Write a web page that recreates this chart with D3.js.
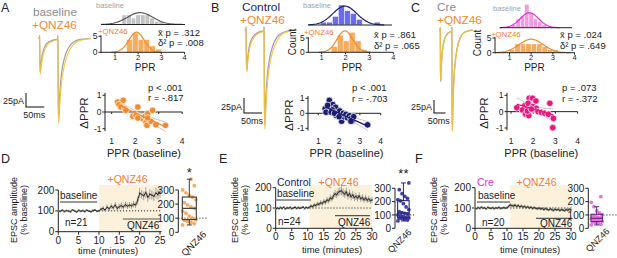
<!DOCTYPE html>
<html><head><meta charset="utf-8">
<script src="https://cdn.jsdelivr.net/npm/d3@7/dist/d3.min.js"></script>
<style>html,body{margin:0;padding:0;background:#fff;}svg{display:block;}</style>
</head><body>
<svg id="chart" width="617" height="258"></svg>
<script>
// ================= DATA =================
const pprTicks = [1, 2, 3, 4];
const dpprTicks = [-1, 0, 1];
const histYTicks = [0, 5];
const tcTicksD = [0, 5, 10, 15, 20, 25];
const tcTicksEF = [0, 5, 10, 15, 20, 25, 30];
const tcYTicks = [0, 100, 200];
const boxYTicks = [0, 100, 200, 300];

// example EPSC traces (ms, pA)
const traceT = [-4, -0.2, 0, 0.4, 1.2, 2.2, 3.5, 6, 10, 16, 24, 34, 46, 49.8, 50, 50.4, 51.2, 52.2, 53.5, 56, 60, 66, 74, 86, 100, 118, 140];
const traceA_base = [0, 0, 5, -6, -45, -60, -51, -36, -23, -13, -7, -4, -2, -2, 5, -16, -107, -143, -126, -94, -64, -41, -24, -11, -4, -1.5, 0];
const traceA_qnz  = [0, 0, 5, -6, -47, -64, -57, -43, -29, -18, -10, -6, -3, -3, 5, -16, -112, -152, -140, -110, -80, -55, -34, -17, -7, -2.5, 0];
const traceB_base = [0, 0, 5, -7, -50, -67, -57, -40, -25, -15, -8, -4, -2, -2, 5, -18, -118, -158, -139, -104, -71, -46, -27, -12, -5, -1.5, 0];
const traceB_qnz  = [0, 0, 5, -7, -52, -70, -62, -46, -31, -19, -11, -6, -3, -3, 5, -18, -123, -165, -152, -118, -85, -58, -36, -18, -7, -2.5, 0];
const traceC_base = [0, 0, 5, -10, -75, -99, -84, -59, -38, -22, -12, -6, -3, -3, 5, -20, -144, -192, -169, -127, -86, -56, -33, -15, -6, -2, 0];
const traceC_qnz  = [0, 0, 5, -10, -72, -95, -82, -59, -39, -23, -13, -7, -3, -3, 5, -20, -146, -195, -173, -131, -90, -59, -35, -16, -6, -2, 0];

// PPR histograms: [bin start, bin width], counts; gaussian fit [mean, sd, peak count]
const histA_baseBins = [1.3, 0.2];  const histA_base = [3, 3, 2, 3, 3, 3, 2, 1, 1];
const histA_qnzBins  = [1.5, 0.25]; const histA_qnz  = [4, 6, 4, 4, 2, 1];
const gaussA_base = [2.08, 0.55, 3.7]; const gaussA_qnz = [1.93, 0.33, 6.3];
const histB_baseBins = [0.95, 0.25]; const histB_base = [1, 1, 3, 7, 5, 4, 2, 0, 0, 1];
const histB_qnzBins  = [1.4, 0.25];  const histB_qnz  = [2, 6, 4, 7, 4, 1];
const gaussB_base = [1.97, 0.5, 6.6]; const gaussB_qnz = [1.97, 0.33, 7.5];
const histC_baseBins = [1.1, 0.2];   const histC_base = [1, 3, 4, 8, 5, 3, 2, 1];
const histC_qnzBins  = [1.0, 0.25];  const histC_qnz  = [1, 3, 3, 3, 3, 3, 2, 1, 1];
const gaussC_base = [1.92, 0.42, 5.1]; const gaussC_qnz = [2.0, 0.55, 4.6];
const statsHistA = ['.312', '.008'];
const statsHistB = ['.861', '.065'];
const statsHistC = ['.024', '.649'];

// PPR (baseline) vs ΔPPR
const pprA = [1.25,1.49,1.31,1.39,1.56,1.60,2.11,1.90,2.04,2.18,2.32,2.42,2.53,2.74,2.46,2.50,2.67,2.88,3.29,2.11,2.53];
const dA   = [0.60,0.70,0.44,0.30,0.20,0.10,0.30,-0.26,-0.20,-0.36,-0.40,-0.26,-0.10,0.10,-0.60,-0.80,-0.56,-0.76,-0.80,-0.36,-0.36];
const pprB = [1.33,1.37,1.53,1.70,1.83,1.67,1.87,1.95,2.03,2.12,2.20,2.23,2.33,2.40,2.50,2.58,2.62,2.70,1.62,1.78,2.00,3.37,2.57,1.45];
const dB   = [0.30,0.07,0.86,0.58,0.40,0.23,-0.16,0.00,0.16,-0.53,0.00,-0.23,-0.07,-0.30,-0.16,-0.35,-0.53,-0.23,0.07,0.00,-0.23,-0.77,-0.53,0.53];
const pprC = [1.26,1.62,1.82,1.97,1.77,2.12,1.51,1.66,1.80,1.74,1.98,2.14,2.22,2.37,2.52,2.68,2.75,2.91,2.88,1.92];
const dC   = [0.24,0.37,0.82,0.82,0.51,0.65,0.10,-0.16,-0.24,0.04,0.31,0.20,0.00,-0.04,-0.10,-0.16,0.51,-0.41,-0.98,0.16];
const statsScatA = ['p < .001', 'r = -.817'];
const statsScatB = ['p < .001', 'r = -.703'];
const statsScatC = ['p = .073', 'r = -.372'];

// EPSC amplitude time courses (% baseline), 0.5-min bins
const tcStep = 0.5;
const tcD  = [100,98,103,97,101,99,96,104,100,95,102,98,101,97,103,99,96,101,104,98,100,
              108,112,104,118,110,122,115,128,112,120,125,118,130,122,128,124,132,128,
              150,185,178,172,188,165,180,175,170,185,178,190];
const semD = [5,4,6,5,4,5,6,4,5,6,5,4,5,6,5,4,5,6,5,4,5,
              8,10,9,12,10,13,11,14,12,13,15,12,14,13,15,14,16,15,
              20,24,22,21,25,22,24,23,22,25,24,26];
const tcE  = [95,100,97,102,98,104,96,101,99,103,97,100,104,98,102,99,101,105,98,103,100,
              104,110,106,115,112,120,118,126,122,132,128,140,135,150,145,160,170,165,178,182,
              185,175,168,180,160,172,155,165,150,158,148,160,145,152,140,150,138,145,135,140];
const semE = [4,5,4,6,5,4,5,5,4,6,5,4,5,4,6,5,4,5,6,4,5,
              7,8,9,10,9,11,10,12,12,13,12,14,13,15,14,16,18,17,19,20,
              22,20,19,21,18,20,17,19,16,18,16,17,15,16,15,16,14,15,14,15];
const tcF  = [100,97,102,98,104,99,101,96,103,100,98,102,97,101,99,103,98,100,102,99,101,
              108,115,112,110,114,108,112,106,110,104,108,102,106,100,104,98,102,99,96,100,
              95,98,92,97,94,90,96,92,88,94,90,93,88,92,90,87,92,89,94,90];
const semF = [5,4,5,4,5,4,5,5,4,5,4,5,4,5,4,5,5,4,5,4,5,
              9,10,9,8,9,8,8,7,8,7,7,7,6,7,6,7,6,6,7,6,
              7,6,7,6,7,6,6,7,6,7,6,6,7,6,7,6,6,7,6,7];
const drugStart = [10, 10.5, 11];     // QNZ46 onset (min) for D, E, F
const nCells = ['n=21', 'n=24', 'n=20'];

// per-cell mean amplitude during QNZ46 (% baseline)
const boxD = [52,62,70,78,85,90,100,115,135,150,170,180,195,210,230,250,262,280,300,330,377];
const boxE = [55,62,68,72,76,78,82,88,95,100,106,112,118,125,140,160,185,205,215,225,240,260,290,340];
const boxF = [25,30,38,42,48,52,58,62,68,72,78,82,88,95,102,115,130,162,195,237];
const sigMarks = ['*', '**', ''];

// ================= DRAWING =================
const svg = d3.select('#chart').attr('font-family', '"Liberation Sans", Arial, Helvetica, sans-serif');
const COL = {
  orange: '#f28a2e', orangeBar: '#f8ab5c', orangeText: '#f27a35',
  grayBar: '#c4c4c4', grayCurve: '#5a5a5a', grayText: '#a3a3a3',
  blueBar: '#6b6bef', navy: '#21217f',
  pinkBar: '#f59ae0', magenta: '#e030d8', pinkPt: '#e8187e',
  yellow: '#f4c23f', traceGray: '#a2a2a2', traceBlueGray: '#9c9cbc',
  shade: '#fdf1dc', ink: '#222'
};

function txt(x, y, s, size, fill, anchor, rot) {
  const t = svg.append('text').attr('x', x).attr('y', y).text(s)
    .attr('font-size', size).attr('fill', fill || COL.ink)
    .attr('text-anchor', anchor || 'start');
  if (rot) t.attr('transform', `rotate(${rot},${x},${y})`);
  return t;
}
function seg(x1, y1, x2, y2, stroke, w, dash) {
  const l = svg.append('line').attr('x1', x1).attr('y1', y1).attr('x2', x2).attr('y2', y2)
    .attr('stroke', stroke || COL.ink).attr('stroke-width', w || 1);
  if (dash) l.attr('stroke-dasharray', dash);
  return l;
}

// ---- panel letters
[['A', 1, 12], ['B', 211, 12], ['C', 411, 12], ['D', 1, 163], ['E', 219, 163], ['F', 415, 163]]
  .forEach(([s, x, y]) => txt(x, y, s, 12.5, COL.ink));

// ---- traces
function drawTraces(o) {
  const x = d3.scaleLinear().domain([0, 50]).range([o.t0, o.t0 + 50 * o.k]);
  const y = d3.scaleLinear().domain([0, -100]).range([o.y0, o.y0 + 100 * o.ppa]);
  const ln = d3.line().x((d, i) => x(traceT[i])).y(d => y(d)).curve(d3.curveMonotoneX);
  svg.append('path').attr('d', ln(o.base)).attr('fill', 'none').attr('stroke', o.baseCol).attr('stroke-width', 1.3);
  svg.append('path').attr('d', ln(o.qnz)).attr('fill', 'none').attr('stroke', COL.yellow).attr('stroke-width', 1.2).attr('opacity', 0.9);
  const sx = o.sb[0], sy = o.sb[1];
  const h = y(-25) - y(0), w = x(50) - x(0);
  seg(sx, sy - h, sx, sy, COL.ink, 1.1);
  seg(sx - 0.5, sy, sx + w, sy, COL.ink, 1.1);
  txt(sx - 2, sy - 3.5, '25pA', 9, COL.ink, 'end');
  txt(sx + w / 2 - 1, sy + 11, '50ms', 9, COL.ink, 'middle');
}
drawTraces({t0: 39.5, k: 0.366, y0: 38.3, ppa: 0.56, base: traceA_base, qnz: traceA_qnz, baseCol: COL.traceGray, sb: [26, 107]});
drawTraces({t0: 246, k: 0.36, y0: 30, ppa: 0.6, base: traceB_base, qnz: traceB_qnz, baseCol: COL.traceBlueGray, sb: [244, 113]});
drawTraces({t0: 440.2, k: 0.232, y0: 30, ppa: 0.52, base: traceC_base, qnz: traceC_qnz, baseCol: COL.traceGray, sb: [434, 113]});

txt(33, 15.5, 'baseline', 11.8, '#8c8c8c');
txt(32, 28.8, '+QNZ46', 11.8, COL.orange);
txt(242, 10.5, 'Control', 11.8, COL.navy);
txt(240, 23.8, '+QNZ46', 11.8, COL.orange);
txt(437, 10.5, 'Cre', 11.8, '#8c8c8c');
txt(437, 23.8, '+QNZ46', 11.8, COL.orange);

// ---- histograms
function drawHists(o) {
  const x = d3.scaleLinear().domain([1, 4]).range(o.xr);
  const one = (y0, bins, counts, barCol, gauss, curveCol) => {
    const y = d3.scaleLinear().domain([0, 1]).range([y0, y0 - o.pxc]);
    const [s, w] = bins;
    svg.append('g').selectAll('rect').data(counts).join('rect')
      .attr('x', (d, i) => x(s + i * w)).attr('width', x(s + w) - x(s))
      .attr('y', d => y(d)).attr('height', d => y(0) - y(d))
      .attr('fill', barCol).attr('stroke', '#fff').attr('stroke-width', 0.5);
    const [m, sd, pk] = gauss;
    const lo = Math.max(m - 3.3 * sd, x.invert(o.axisX)), hi = Math.min(m + 3.3 * sd, 4);
    const xs = d3.range(61).map(i => lo + (hi - lo) * i / 60);
    svg.append('path').datum(xs)
      .attr('d', d3.line().x(p => x(p)).y(p => y(pk * Math.exp(-0.5 * ((p - m) / sd) ** 2))))
      .attr('fill', 'none').attr('stroke', curveCol).attr('stroke-width', 1.2);
  };
  one(o.yTop, o.baseBins, o.base, o.baseBar, o.baseG, o.baseCurve);
  seg(o.topLine[0], o.yTop, o.topLine[1], o.yTop, COL.ink, 1);
  one(o.yBot, o.qnzBins, o.qnz, COL.orangeBar, o.qnzG, COL.orange);
  const yb = d3.scaleLinear().domain([0, 1]).range([o.yBot, o.yBot - o.pxc]);
  seg(o.axisX, yb(0) + 0.5, o.axisX, yb(5.3), COL.ink, 1);
  histYTicks.forEach(v => {
    seg(o.axisX - 2.5, yb(v), o.axisX, yb(v), COL.ink, 1);
    txt(o.axisX - 3.5, yb(v) + 3, String(v), 8.5, COL.ink, 'end');
  });
  seg(o.axisX, o.yBot, x(4), o.yBot, COL.ink, 1);
  pprTicks.forEach(v => {
    seg(x(v), o.yBot, x(v), o.yBot + 2, COL.ink, 1);
    txt(x(v), o.yBot + 7.6, String(v), 7.5, COL.ink, 'middle');
  });
  txt(x(o.pprLab), 71.2, 'PPR', 10, COL.ink, 'middle');
  if (o.count) txt(o.count[0], o.count[1], 'Count', 10, COL.ink, 'middle', -90);
  txt(o.baseLab[0], o.baseLab[1], 'baseline', 7.5, COL.grayText);
  txt(o.qnzLab[0], o.qnzLab[1], '+QNZ46', 7.8, COL.orangeText);
  txt(o.stat[0], o.stat[1], 'x\u0304 p = ' + o.stats[0], 9.5, COL.ink);
  txt(o.stat[0], o.stat[1] + 10.7, '\u03b4\u00b2 p = ' + o.stats[1], 9.5, COL.ink);
}
drawHists({xr: [115, 184.5], axisX: 101, yTop: 24.5, yBot: 52.3, pxc: 3.2, topLine: [101, 185],
  baseBins: histA_baseBins, base: histA_base, baseBar: COL.grayBar, baseG: gaussA_base, baseCurve: COL.grayCurve,
  qnzBins: histA_qnzBins, qnz: histA_qnz, qnzG: gaussA_qnz, pprLab: 2.3, count: null,
  baseLab: [96, 8], qnzLab: [98, 34], stat: [158, 35.5], stats: statsHistA});
drawHists({xr: [321.7, 393.3], axisX: 308.3, yTop: 25, yBot: 52.3, pxc: 2.86, topLine: [308, 392],
  baseBins: histB_baseBins, base: histB_base, baseBar: COL.blueBar, baseG: gaussB_base, baseCurve: COL.navy,
  qnzBins: histB_qnzBins, qnz: histB_qnz, qnzG: gaussB_qnz, pprLab: 2.27, count: [296, 42],
  baseLab: [303, 7.5], qnzLab: [304, 35], stat: [374, 38], stats: statsHistB});
drawHists({xr: [509.5, 574.5], axisX: 495, yTop: 27.7, yBot: 52.7, pxc: 2.94, topLine: [500, 572],
  baseBins: histC_baseBins, base: histC_base, baseBar: COL.pinkBar, baseG: gaussC_base, baseCurve: COL.magenta,
  qnzBins: histC_qnzBins, qnz: histC_qnz, qnzG: gaussC_qnz, pprLab: 2.15, count: [481, 43],
  baseLab: [493, 11], qnzLab: [491, 37], stat: [560, 38], stats: statsHistC});

// ---- scatter PPR vs ΔPPR
function drawScatter(o) {
  const x = d3.scaleLinear().domain([1, 4]).range(o.xr);
  const y = d3.scaleLinear().domain([-1, 1]).range(o.yr);
  seg(o.axisX, y(1.15), o.axisX, y(-1.15), COL.ink, 1);
  dpprTicks.forEach(v => {
    seg(o.axisX - 2.5, y(v), o.axisX, y(v), COL.ink, 1);
    txt(o.axisX - 3.5, y(v) + 3, v === -1 ? '-1' : String(v), 8.5, COL.ink, 'end');
  });
  seg(o.axisX, y(0), x(4), y(0), COL.ink, 1);
  pprTicks.forEach(v => {
    seg(x(v), y(0), x(v), y(0) + 2, COL.ink, 1);
    txt(x(v), 143.5, String(v), 8.5, COL.ink, 'middle');
  });
  txt((x(1) + x(4)) / 2 - 3, 157, 'PPR (baseline)', 11, COL.ink, 'middle');
  txt(o.dLab[0], o.dLab[1], '\u0394PPR', 11.5, COL.ink, 'middle', -90);
  const n = o.px.length, mx = d3.mean(o.px), my = d3.mean(o.py);
  const sxx = d3.sum(o.px, v => (v - mx) ** 2);
  const sxy = d3.sum(o.px, (v, i) => (v - mx) * (o.py[i] - my));
  const b = sxy / sxx, a = my - b * mx;
  const s = Math.sqrt(d3.sum(o.px, (v, i) => (o.py[i] - a - b * v) ** 2) / (n - 2));
  const lo = d3.min(o.px), hi = d3.max(o.px);
  const xs = d3.range(41).map(i => lo + (hi - lo) * i / 40);
  const ci = (v, sgn) => a + b * v + sgn * 2.08 * s * Math.sqrt(1 / n + (v - mx) ** 2 / sxx);
  [1, -1].forEach(sg => svg.append('path').datum(xs)
    .attr('d', d3.line().x(v => x(v)).y(v => y(ci(v, sg))))
    .attr('fill', 'none').attr('stroke', '#b9b9b9').attr('stroke-width', 0.9));
  svg.append('g').selectAll('circle').data(o.px).join('circle')
    .attr('cx', d => x(d)).attr('cy', (d, i) => y(o.py[i])).attr('r', 3.3)
    .attr('fill', o.col).attr('stroke', '#fff').attr('stroke-width', 0.7);
  seg(x(lo), y(a + b * lo), x(hi), y(a + b * hi), o.col, 1.3);
  txt(o.stat[0], o.stat[1], o.stats[0], 9.5, COL.ink);
  txt(o.stat[0], o.stat[1] + 10.7, o.stats[1], 9.5, COL.ink);
}
drawScatter({xr: [111.7, 182.2], yr: [128.7, 95.3], axisX: 105, px: pprA, py: dA, col: COL.orange,
  dLab: [88, 113], stat: [148, 90.5], stats: statsScatA});
drawScatter({xr: [318.3, 380.7], yr: [128.3, 98.3], axisX: 308, px: pprB, py: dB, col: '#1c1c70',
  dLab: [293, 115], stat: [352, 91], stats: statsScatB});
drawScatter({xr: [511, 577.6], yr: [128, 95.3], axisX: 507, px: pprC, py: dC, col: COL.pinkPt,
  dLab: [488, 113], stat: [562, 91], stats: statsScatC});

// ---- time courses + box plots
function drawTC(o) {
  const x = d3.scaleLinear().domain([0, o.tmax]).range(o.xr);
  const y = d3.scaleLinear().domain([0, 200]).range(o.yr);
  const xEnd = x(o.tEnd);
  svg.append('rect').attr('x', x(o.drug)).attr('y', 185).attr('width', xEnd - x(o.drug))
    .attr('height', y(0) - 185).attr('fill', COL.shade);
  seg(x(o.drug), y(100), xEnd, y(100), '#333', 1, '1.2,1.8');
  seg(o.xr[0], y(0), o.xr[0], y(200), COL.ink, 1);
  tcYTicks.forEach(v => {
    seg(o.xr[0] - 3, y(v), o.xr[0], y(v), COL.ink, 1);
    txt(o.xr[0] - 4, y(v) + 3.6, String(v), 10, COL.ink, 'end');
  });
  seg(o.xr[0], y(0), xEnd, y(0), COL.ink, 1);
  o.ticks.forEach(v => {
    seg(x(v), y(0), x(v), y(0) + 3, COL.ink, 1);
    txt(x(v), y(0) + 12, String(v), 10, COL.ink, 'middle');
  });
  txt(o.timeLab[0], o.timeLab[1], 'time (minutes)', 9.5, COL.ink, 'middle');
  txt(o.yLab, 210, 'EPSC amplitude', 9, COL.ink, 'middle', -90);
  txt(o.yLab + 10, 210, '(% baseline)', 9, COL.ink, 'middle', -90);
  const ts = o.vals.map((v, i) => i * tcStep);
  svg.append('g').selectAll('line').data(o.vals).join('line')
    .attr('x1', (d, i) => x(ts[i])).attr('x2', (d, i) => x(ts[i]))
    .attr('y1', (d, i) => y(d - o.sem[i])).attr('y2', (d, i) => y(d + o.sem[i]))
    .attr('stroke', '#9a9a92').attr('stroke-width', 0.9);
  svg.append('g').selectAll('rect').data(o.vals).join('rect')
    .attr('x', (d, i) => x(ts[i]) - 1).attr('y', d => y(d) - 1).attr('width', 2).attr('height', 2)
    .attr('fill', '#8a8a80');
  svg.append('path').datum(o.vals).attr('d', d3.line().x((d, i) => x(ts[i])).y(d => y(d)))
    .attr('fill', 'none').attr('stroke', '#1e1e1e').attr('stroke-width', 0.9);
  txt(o.bl[0], o.bl[1], 'baseline', 10, COL.ink);
  seg(o.blLine[0], o.blLine[2], o.blLine[1], o.blLine[2], '#777', 1.4);
  txt(o.n[0], o.n[1], o.nText, 10, COL.ink);
  txt(o.q[0], o.q[1], 'QNZ46', 10, COL.ink);
  seg(o.qLine[0], o.qLine[2], o.qLine[1], o.qLine[2], '#555', 1.2);
  txt(o.plus[0], o.plus[1], '+QNZ46', 10.5, COL.orangeText, 'middle');
  if (o.cond) txt(o.cond[0], o.cond[1], o.cond[2], 10.5, o.cond[3]);
  const yb = d3.scaleLinear().domain([0, 300]).range(o.byr);
  seg(o.bAxis, yb(0), o.bAxis, yb(300), COL.ink, 1);
  boxYTicks.forEach(v => {
    seg(o.bAxis - 3, yb(v), o.bAxis, yb(v), COL.ink, 1);
    txt(o.bAxis - 4, yb(v) + 3.6, String(v), 10, COL.ink, 'end');
  });
  const srt = o.box.slice().sort(d3.ascending);
  const q1 = d3.quantile(srt, 0.25), med = d3.quantile(srt, 0.5), q3 = d3.quantile(srt, 0.75);
  const iqr = q3 - q1;
  const wHi = d3.max(srt.filter(v => v <= q3 + 1.5 * iqr)), wLo = d3.min(srt.filter(v => v >= q1 - 1.5 * iqr));
  seg(o.bAxis, yb(100), o.bEnd, yb(100), '#333', 1, '1.2,1.8');
  const c = o.bc, hw = o.bw / 2;
  svg.append('g').selectAll('circle').data(o.box).join('circle')
    .attr('cx', (d, i) => c + ((i * 7) % 9 - 4) * (hw / 4.2))
    .attr('cy', d => yb(d)).attr('r', 1.9).attr('fill', o.dot).attr('opacity', 0.9);
  svg.append('rect').attr('x', c - hw).attr('y', yb(q3)).attr('width', o.bw).attr('height', yb(q1) - yb(q3))
    .attr('fill', 'none').attr('stroke', o.boxCol).attr('stroke-width', 1.1);
  seg(c - hw, yb(med), c + hw, yb(med), o.boxCol, 1.2);
  seg(c, yb(q3), c, yb(wHi), o.boxCol, 1); seg(c - 2.5, yb(wHi), c + 2.5, yb(wHi), o.boxCol, 1);
  seg(c, yb(q1), c, yb(wLo), o.boxCol, 1); seg(c - 2.5, yb(wLo), c + 2.5, yb(wLo), o.boxCol, 1);
  if (o.sig) txt(c, o.sigY, o.sig, 13, COL.ink, 'middle');
  txt(o.qRot[0], o.qRot[1], 'QNZ46', o.qRot[2], COL.ink, 'end', -45);
}
drawTC({tmax: 25, tEnd: 25.4, xr: [58.3, 160], yr: [231.7, 190], drug: drugStart[0], vals: tcD, sem: semD,
  ticks: tcTicksD, timeLab: [108, 254], yLab: 17,
  bl: [60, 199], blLine: [60, 97, 202], n: [65, 225.5], nText: nCells[0], q: [127, 228.5], qLine: [123, 160, 219],
  plus: [127.5, 182.5], cond: null,
  byr: [232.3, 190], bAxis: 178.3, bEnd: 208, bc: 189.3, bw: 14, box: boxD, dot: '#f6a24e', boxCol: '#3a3a3a',
  sig: sigMarks[0], sigY: 177, qRot: [207, 235, 9.5]});
drawTC({tmax: 30, tEnd: 30, xr: [275.7, 372], yr: [228.3, 187.7], drug: drugStart[1], vals: tcE, sem: semE,
  ticks: tcTicksEF, timeLab: [332, 252.5], yLab: 238,
  bl: [277, 197], blLine: [276, 311, 200], n: [278, 225], nText: nCells[1], q: [338, 225.5], qLine: [335, 370, 215.7],
  plus: [338.5, 185.5], cond: [277, 185.5, 'Control', COL.navy],
  byr: [228.3, 188.3], bAxis: 395, bEnd: 415, bc: 403.4, bw: 11.5, box: boxE, dot: '#2e2e96', boxCol: '#26267a',
  sig: sigMarks[1], sigY: 178, qRot: [412, 233, 9]});
drawTC({tmax: 30, tEnd: 30.2, xr: [475, 571], yr: [228.3, 187.7], drug: drugStart[2], vals: tcF, sem: semF,
  ticks: tcTicksEF, timeLab: [530, 252.5], yLab: 437,
  bl: [478, 199], blLine: [477, 510, 202], n: [482, 225.5], nText: nCells[2], q: [540, 227], qLine: [536, 572, 218.3],
  plus: [536.5, 185.5], cond: [477, 185.5, 'Cre', COL.magenta],
  byr: [228.3, 188.3], bAxis: 588.3, bEnd: 617, bc: 596.7, bw: 11.5, box: boxF, dot: '#e865d4', boxCol: '#5e2a84',
  sig: sigMarks[2], sigY: 178, qRot: [610, 232, 9]});
</script>
</body></html>
